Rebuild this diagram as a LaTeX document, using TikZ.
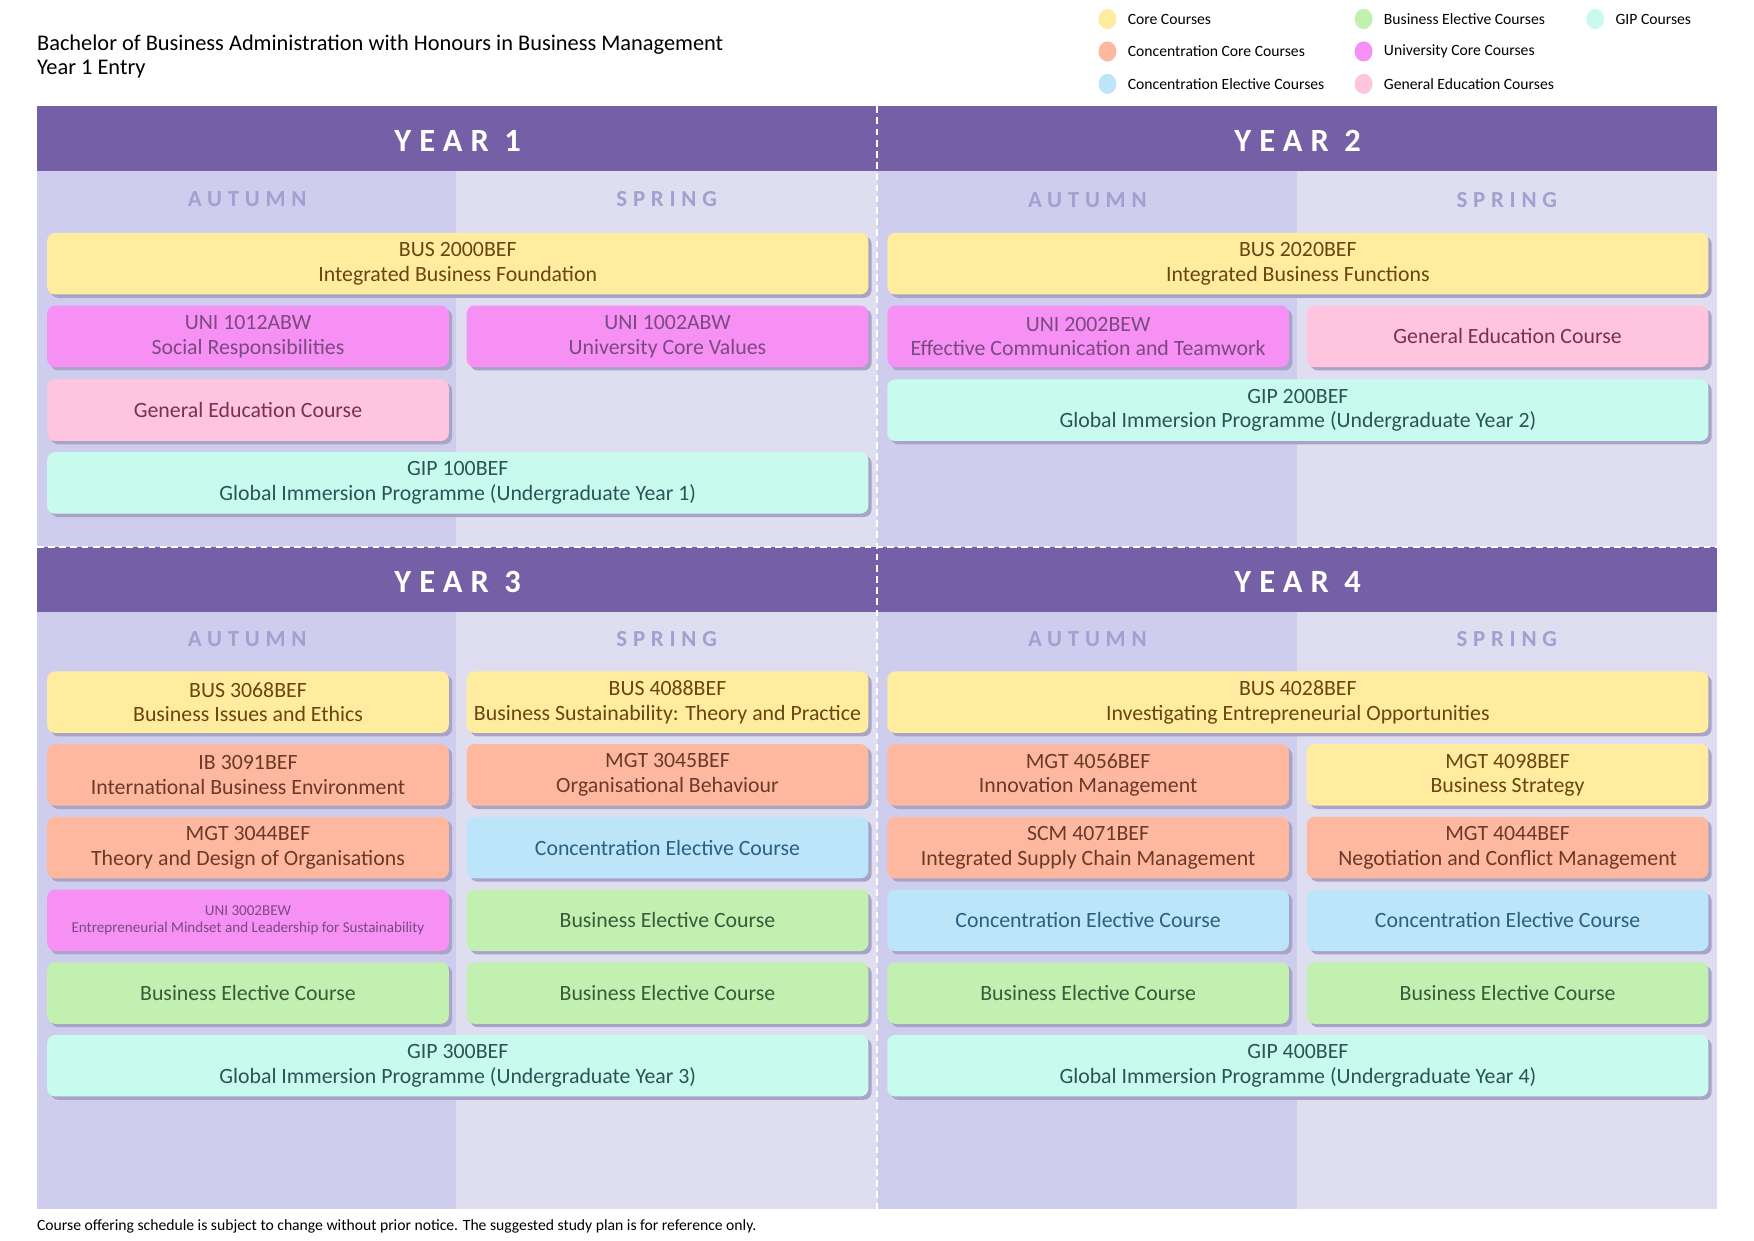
\documentclass[tikz,border=0pt]{standalone}
\usepackage{fontspec}
\setmainfont{Carlito}
\newfontfamily\spacedfont[LetterSpace=25]{Carlito}
\usetikzlibrary{shadows}

\definecolor{headC}{HTML}{7560A8}
\definecolor{autC}{HTML}{CFCDED}
\definecolor{sprC}{HTML}{DEDEF0}
\definecolor{seasonT}{HTML}{A59ED0}
\definecolor{shadowC}{HTML}{A8A4C8}
\definecolor{coreC}{HTML}{FFEC9E}
\definecolor{coreT}{HTML}{6A4511}
\definecolor{concC}{HTML}{FFB8A0}
\definecolor{concT}{HTML}{6A3A28}
\definecolor{celecC}{HTML}{BDE5FA}
\definecolor{celecT}{HTML}{2A6080}
\definecolor{belecC}{HTML}{C2F0B0}
\definecolor{belecT}{HTML}{3A5A3A}
\definecolor{uniC}{HTML}{F790F5}
\definecolor{uniT}{HTML}{7A4A80}
\definecolor{genC}{HTML}{FFC4DE}
\definecolor{genT}{HTML}{7A3050}
\definecolor{gipC}{HTML}{C8FAEE}
\definecolor{gipT}{HTML}{2A5555}

\begin{document}
\begin{tikzpicture}
[x=1pt,y=-1pt,%
  course/.style={anchor=north west,rounded corners=7pt,inner sep=0pt,minimum height=55pt,
    align=center,font=\fontsize{19.5}{22}\selectfont,
    drop shadow={shadow xshift=3pt,shadow yshift=-3pt,fill=shadowC,opacity=1}},%
  full/.style={course,minimum width=734pt},%
  half/.style={course,minimum width=359pt},%
  core/.style={fill=coreC,text=coreT},%
  conc/.style={fill=concC,text=concT},%
  celec/.style={fill=celecC,text=celecT},%
  belec/.style={fill=belecC,text=belecT},%
  uni/.style={fill=uniC,text=uniT},%
  gened/.style={fill=genC,text=genT},%
  gip/.style={fill=gipC,text=gipT},%
  yearlabel/.style={text=white,font=\spacedfont\bfseries\fontsize{29}{31}\selectfont},%
  seasonlabel/.style={text=seasonT,font=\spacedfont\bfseries\fontsize{20.5}{22}\selectfont},%
  legendtext/.style={anchor=west,inner sep=0pt,font=\fontsize{14}{16}\selectfont}]
\useasboundingbox (0,0) rectangle (1568,1109);
\fill[white] (0,0) rectangle (1568,1109);

% title and legend
\node[anchor=base west,inner sep=0pt,font=\fontsize{20}{22}\selectfont] (title) at (33,45)
  {Bachelor of Business Administration with Honours in Business Management};
\node[anchor=base west,inner sep=0pt,font=\fontsize{20}{22}\selectfont] (entry) at (33,67) {Year 1 Entry};
\foreach \c/\x/\y/\t [count=\i] in {coreC/990/17/Core Courses,concC/990/46/Concentration Core Courses,%
    celecC/990/75/Concentration Elective Courses,belecC/1219/17/Business Elective Courses,%
    uniC/1219/46/University Core Courses,genC/1219/75/General Education Courses,gipC/1426/17/GIP Courses}
{
  \fill[\c] (\x,\y) ellipse (8pt and 9pt);
  \node[legendtext] (leg\i) at (\x+18,\y) {\t};
}

% columns and headers
\fill[autC] (33,95) rectangle (408,1081);
\fill[sprC] (408,95) rectangle (784,1081);
\fill[autC] (784,95) rectangle (1159,1081);
\fill[sprC] (1159,95) rectangle (1535,1081);
\fill[headC] (33,95) rectangle (1535,153);
\fill[headC] (33,489) rectangle (1535,547);
\draw[white,line width=1.5pt,dash pattern=on 6pt off 4pt] (784,95) -- (784,1081);
\draw[white,line width=1.5pt,dash pattern=on 6pt off 4pt] (33,489) -- (1535,489);

\node[yearlabel] (year1) at (409,126) {YEAR 1};
\node[yearlabel] (year2) at (1160,126) {YEAR 2};
\node[yearlabel] (year3) at (409,520) {YEAR 3};
\node[yearlabel] (year4) at (1160,520) {YEAR 4};
\foreach \x/\y [count=\i] in {221/178,972/179,221/571,972/571}
{
  \node[seasonlabel] (aut\i) at (\x,\y) {AUTUMN};
  \node[seasonlabel] (spr\i) at (\x+375,\y) {SPRING};
}

% year 1
\node[full,core] (bus2000) at (42,208) {BUS 2000BEF\\Integrated Business Foundation};
\node[half,uni] (uni1012) at (42,273) {UNI 1012ABW\\Social Responsibilities};
\node[half,uni] (uni1002) at (417,273) {UNI 1002ABW\\University Core Values};
\node[half,gened] (gen1) at (42,339) {General Education Course};
\node[full,gip] (gip100) at (42,404) {GIP 100BEF\\Global Immersion Programme (Undergraduate Year 1)};

% year 2
\node[full,core] (bus2020) at (793,208) {BUS 2020BEF\\Integrated Business Functions};
\node[half,uni] (uni2002) at (793,273) {UNI 2002BEW\\Effective Communication and Teamwork};
\node[half,gened] (gen2) at (1168,273) {General Education Course};
\node[full,gip] (gip200) at (793,339) {GIP 200BEF\\Global Immersion Programme (Undergraduate Year 2)};

% year 3
\node[half,core] (bus3068) at (42,600) {BUS 3068BEF\\Business Issues and Ethics};
\node[half,core] (bus4088) at (417,600) {BUS 4088BEF\\Business Sustainability: Theory and Practice};
\node[half,conc] (ib3091) at (42,665) {IB 3091BEF\\International Business Environment};
\node[half,conc] (mgt3045) at (417,665) {MGT 3045BEF\\Organisational Behaviour};
\node[half,conc] (mgt3044) at (42,730) {MGT 3044BEF\\Theory and Design of Organisations};
\node[half,celec] (conc31) at (417,730) {Concentration Elective Course};
\node[half,uni,font=\fontsize{13.5}{16}\selectfont] (uni3002) at (42,795)
  {UNI 3002BEW\\Entrepreneurial Mindset and Leadership for Sustainability};
\node[half,belec] (belec31) at (417,795) {Business Elective Course};
\node[half,belec] (belec32) at (42,860) {Business Elective Course};
\node[half,belec] (belec33) at (417,860) {Business Elective Course};
\node[full,gip] (gip300) at (42,925) {GIP 300BEF\\Global Immersion Programme (Undergraduate Year 3)};

% year 4
\node[full,core] (bus4028) at (793,600) {BUS 4028BEF\\Investigating Entrepreneurial Opportunities};
\node[half,conc] (mgt4056) at (793,665) {MGT 4056BEF\\Innovation Management};
\node[half,core] (mgt4098) at (1168,665) {MGT 4098BEF\\Business Strategy};
\node[half,conc] (scm4071) at (793,730) {SCM 4071BEF\\Integrated Supply Chain Management};
\node[half,conc] (mgt4044) at (1168,730) {MGT 4044BEF\\Negotiation and Conflict Management};
\node[half,celec] (conc41) at (793,795) {Concentration Elective Course};
\node[half,celec] (conc42) at (1168,795) {Concentration Elective Course};
\node[half,belec] (belec41) at (793,860) {Business Elective Course};
\node[half,belec] (belec42) at (1168,860) {Business Elective Course};
\node[full,gip] (gip400) at (793,925) {GIP 400BEF\\Global Immersion Programme (Undergraduate Year 4)};

\node[anchor=base west,inner sep=0pt,font=\fontsize{14}{16}\selectfont] (note) at (33,1100)
  {Course offering schedule is subject to change without prior notice. The suggested study plan is for reference only.};
\end{tikzpicture}
\end{document}
